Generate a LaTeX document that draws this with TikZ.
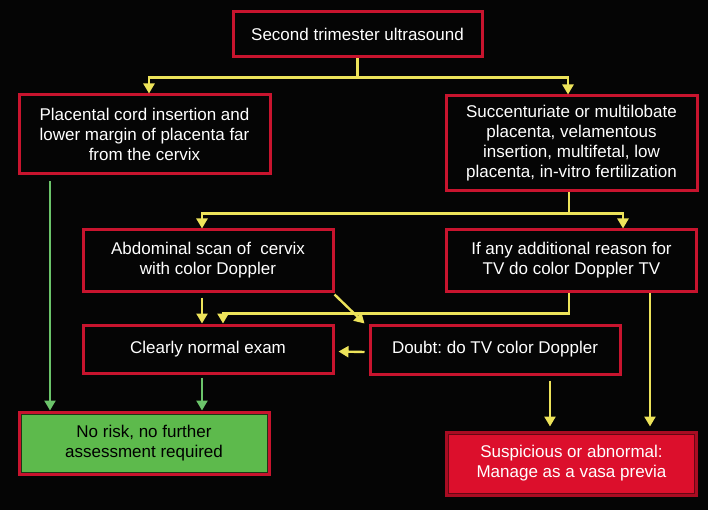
\documentclass[tikz,border=0pt]{standalone}
\usepackage{fontspec}
\setmainfont{Liberation Sans}
\usetikzlibrary{arrows.meta,calc}
\definecolor{bg}{HTML}{050505}
\definecolor{boxred}{HTML}{C8142E}
\definecolor{yl}{HTML}{EDE35A}
\definecolor{gr}{HTML}{6BC46A}
\definecolor{gfill}{HTML}{5DBA4C}
\definecolor{rfill}{HTML}{DC0F2C}
\definecolor{rdark}{HTML}{A80C22}
\frenchspacing
\begin{document}
\begin{tikzpicture}[x=1pt,y=-1pt,
  box/.style={draw=boxred,line width=3pt,fill=bg,text=white,align=center,
    font=\fontsize{17}{20}\selectfont\frenchspacing,inner sep=1pt},
  yarr/.style={draw=yl,line width=2.4pt,-{Triangle[length=10pt,width=11pt]}},
  yline/.style={draw=yl,line width=2.4pt},
  garr/.style={draw=gr,line width=2.4pt,-{Triangle[length=10pt,width=11pt]}}]
\fill[bg] (0,0) rectangle (708,510);
\useasboundingbox (0,0) rectangle (708,510);

\node[box,minimum width=249,minimum height=45] (top) at (357.5,34.5) {Second trimester ultrasound};
\node[box,minimum width=251,minimum height=79] (L1) at (144.5,134.5) {Placental cord insertion and\\lower margin of placenta far\\from the cervix};
\node[box,minimum width=251,minimum height=95] (R1) at (571.5,143.5) {Succenturiate or multilobate\\placenta, velamentous\\insertion, multifetal, low\\placenta, in-vitro fertilization};
\node[box,minimum width=250,minimum height=61] (A) at (208,260.5) {Abdominal scan of\ \ cervix\\with color Doppler};
\node[box,minimum width=250,minimum height=61] (B) at (571.5,260.5) {If any additional reason for\\TV do color Doppler TV};
\node[box,minimum width=250,minimum height=48] (N) at (208,349) {Clearly normal exam};
\node[box,minimum width=250,minimum height=49] (D) at (495,349.5) {Doubt: do TV color Doppler};
\node[box,fill=gfill,text=black,minimum width=250,minimum height=62] (G) at (144,443) {No risk, no further\\assessment required};
\draw[black!70!gfill,line width=1pt] ([shift={(3.5pt,-3.5pt)}]G.north west) rectangle ([shift={(-3.5pt,3.5pt)}]G.south east);
\node[box,draw=rdark,fill=rfill,minimum width=250,minimum height=63] (S) at (571.5,463.5) {Suspicious or abnormal:\\Manage as a vasa previa};
\draw[black!40!rdark,line width=1pt] ([shift={(3.5pt,-3.5pt)}]S.north west) rectangle ([shift={(-3.5pt,3.5pt)}]S.south east);

% top split
\draw[yline] (top.south) -- ++(0,19) coordinate (j1);
\draw[yarr] (j1) -| ([xshift=4.5pt]L1.north);
\draw[yarr] (j1) -| ([xshift=-3.5pt]R1.north);
% R1 split
\draw[yline] ([xshift=-2.5pt]R1.south) -- ++(0,21) coordinate (j2);
\draw[yarr] (j2) -| ([xshift=-6pt]A.north);
\draw[yarr] (j2) -| ([xshift=51.5pt]B.north);
% A down to N
\draw[yarr] ([xshift=-6pt,yshift=-5pt]A.south) -- ([xshift=-6pt]N.north);
% B to N
\draw[yarr] ([xshift=-2.5pt]B.south) -- ++(0,21) -| ([xshift=15pt]N.north);
% A to D diagonal
\draw[yarr] ([yshift=-2pt]A.south east) -- ([xshift=-4pt]D.north west);
% D to N
\draw[yarr] ([xshift=-4pt,yshift=-2.5pt]D.west) -- ([xshift=4pt,yshift=-2.5pt]N.east);
% D down to S
\draw[yarr] ([xshift=55pt,yshift=-5pt]D.south) -- ([xshift=-21.5pt,yshift=4pt]S.north);
% B down to S
\draw[yarr] ([xshift=78.5pt]B.south) -- ([xshift=78.5pt,yshift=4pt]S.north);
% green
\draw[garr] ([xshift=-94.5pt,yshift=-6pt]L1.south) -- ([xshift=-94pt]G.north);
\draw[garr] ([xshift=-6pt,yshift=-3pt]N.south) -- ([xshift=58pt]G.north);
\end{tikzpicture}
\end{document}
